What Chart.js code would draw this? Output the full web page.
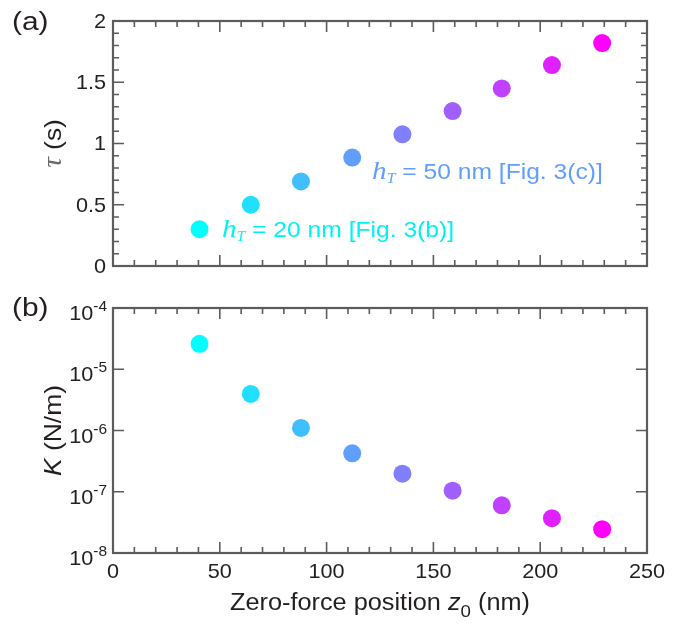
<!DOCTYPE html>
<html><head><meta charset="utf-8">
<script src="https://cdn.jsdelivr.net/npm/chart.js@4.4.0/dist/chart.umd.min.js"></script>
<style>
html,body{margin:0;padding:0;background:#fff;}
#wrap{position:relative;width:693px;height:631px;}
canvas{position:absolute;left:0;}
#c1{top:0;} #c2{top:290px;}
</style></head><body>
<div id="wrap"><canvas id="c1" width="693" height="290"></canvas><canvas id="c2" width="693" height="341"></canvas></div>
<script>
// ---- data ----
const z0 = [40.5, 64.5, 88, 112, 135.5, 159, 182, 205.5, 229];
const tau = [0.30, 0.50, 0.69, 0.885, 1.075, 1.265, 1.45, 1.64, 1.82];
const K = [2.6e-5, 3.95e-6, 1.1e-6, 4.25e-7, 1.97e-7, 1.04e-7, 6.0e-8, 3.7e-8, 2.45e-8];
const pointColors = ['#00ffff','#20dfff','#40bfff','#609fff','#8080ff','#9f60ff','#bf40ff','#df20ff','#ff00ff'];
const xTicks = [0, 50, 100, 150, 200, 250];
const xTickLabels = ['0', '50', '100', '150', '200', '250'];
const tauTicks = [0, 0.5, 1, 1.5, 2];
const tauTickLabels = ['0', '0.5', '1', '1.5', '2'];
const kTicks = [1e-8, 1e-7, 1e-6, 1e-5, 1e-4];
const kTickExps = ['-8', '-7', '-6', '-5', '-4'];

const FRAME = '#5c5c5c';
const TXT = '#231f20';
const SANS = '"Liberation Sans", Arial, sans-serif';
const SERIF = '"Liberation Serif", "Times New Roman", serif';

function drawRich(ctx, x, y, parts, align, sx) {
  sx = sx || 1;
  let w = 0;
  for (const p of parts) { ctx.font = p.font; p.w = ctx.measureText(p.text).width; w += p.w; }
  const W = w * sx;
  const x0 = align === 'center' ? x - W / 2 : (align === 'right' ? x - W : x);
  ctx.save();
  ctx.translate(x0, y);
  ctx.scale(sx, 1);
  ctx.textAlign = 'left';
  let cx = 0;
  for (const p of parts) {
    ctx.font = p.font; ctx.fillStyle = p.color || TXT;
    ctx.fillText(p.text, cx, p.dy || 0);
    cx += p.w;
  }
  ctx.restore();
}

const axesPlugin = {
  id: 'axesPlugin',
  afterDraw(chart) {
    const cfg = chart.options.plugins.axesPlugin;
    const { ctx, chartArea: a, scales: { x, y } } = chart;
    ctx.save();
    ctx.strokeStyle = FRAME;
    ctx.lineWidth = 1.6;
    ctx.beginPath();
    // x ticks (minor every 10)
    for (let v = 0; v <= 250; v += 10) {
      const px = x.getPixelForValue(v);
      const L = xTicks.includes(v) ? 11 : 6;
      ctx.moveTo(px, a.bottom); ctx.lineTo(px, a.bottom - L);
      ctx.moveTo(px, a.top); ctx.lineTo(px, a.top + L);
    }
    // y ticks
    for (const t of cfg.yTicksAll) {
      const py = y.getPixelForValue(t.v);
      ctx.moveTo(a.left, py); ctx.lineTo(a.left + t.len, py);
      ctx.moveTo(a.right, py); ctx.lineTo(a.right - t.len, py);
    }
    ctx.stroke();
    ctx.lineWidth = 2.2;
    ctx.strokeRect(a.left, a.top, a.right - a.left, a.bottom - a.top);

    // y tick labels
    if (cfg.log) {
      ctx.textBaseline = 'alphabetic';
      kTicks.forEach((v, i) => {
        const py = y.getPixelForValue(v);
        drawRich(ctx, a.left - 6, py + 12, [
          { text: '10', font: '21px ' + SANS },
          { text: kTickExps[i], font: '15px ' + SANS, dy: -9 }
        ], 'right', 1.03);
      });
    } else {
      ctx.textBaseline = 'middle';
      tauTicks.forEach((v, i) => {
        drawRich(ctx, a.left - 7, y.getPixelForValue(v) + 1, [{ text: tauTickLabels[i], font: '21px ' + SANS }], 'right', 1.03);
      });
    }
    // x tick labels
    if (cfg.xLabels) {
      ctx.textBaseline = 'middle';
      xTicks.forEach((v, i) => drawRich(ctx, x.getPixelForValue(v), a.bottom + 19, [{ text: xTickLabels[i], font: '21px ' + SANS }], 'center', 1.03));
      ctx.textBaseline = 'alphabetic';
      drawRich(ctx, (a.left + a.right) / 2, a.bottom + 57, [
        { text: 'Zero-force position ', font: '23px ' + SANS },
        { text: 'z', font: 'italic 23px ' + SANS },
        { text: '0', font: '17px ' + SANS, dy: 7 },
        { text: ' (nm)', font: '23px ' + SANS }
      ], 'center', 1.1);
    }
    // y title
    ctx.save();
    ctx.translate(cfg.yTitleX, (a.top + a.bottom) / 2);
    ctx.rotate(-Math.PI / 2);
    ctx.textBaseline = 'middle';
    drawRich(ctx, 0, 0, cfg.yTitle, 'center', 1.1);
    ctx.restore();
    // panel label
    ctx.textBaseline = 'alphabetic';
    drawRich(ctx, 12, cfg.panelY, [{ text: cfg.panel, font: '26px ' + SANS }], 'left', 1.15);
    // annotations
    if (cfg.notes) {
      for (const n of cfg.notes) {
        const px = x.getPixelForValue(n.x), py = y.getPixelForValue(n.y);
        drawRich(ctx, px, py, [
          { text: 'h', font: 'italic 26px ' + SERIF, color: n.color },
          { text: 'T', font: 'italic 14px ' + SERIF, color: n.color, dy: 4 },
          { text: ' = ' + n.text, font: '22px ' + SANS, color: n.color }
        ], 'left', 1.12);
      }
    }
    ctx.restore();
  }
};

const tauTicksAll = [];
for (let i = 0; i <= 20; i++) tauTicksAll.push({ v: i / 10, len: (i % 5 === 0) ? 11 : 6 });
const kTicksAll = kTicks.map(v => ({ v, len: 11 }));

function makeChart(id, yVals, yScale, padding, pcfg) {
  return new Chart(document.getElementById(id), {
    type: 'scatter',
    data: { datasets: [{
      data: z0.map((v, i) => ({ x: v, y: yVals[i] })),
      backgroundColor: pointColors, borderWidth: 0, pointRadius: 9, pointHoverRadius: 9
    }] },
    options: {
      responsive: false, animation: false, devicePixelRatio: 1,
      layout: { padding },
      plugins: { legend: { display: false }, tooltip: { enabled: false }, axesPlugin: pcfg },
      scales: {
        x: { type: 'linear', min: 0, max: 250, display: false },
        y: Object.assign({ display: false }, yScale)
      }
    },
    plugins: [axesPlugin]
  });
}

makeChart('c1', tau, { type: 'linear', min: 0, max: 2 },
  { left: 113, right: 46, top: 21, bottom: 24 },
  { yTicksAll: tauTicksAll, log: false, xLabels: false, yTitleX: 54, panel: '(a)', panelY: 30,
    yTitle: [ { text: 'τ', font: 'italic 27px ' + SERIF, color: '#6a6a6a' }, { text: ' (s)', font: '24px ' + SANS } ],
    notes: [
      { x: 51, y: 0.235, color: '#00f2f2', text: '20 nm [Fig. 3(b)]' },
      { x: 121.3, y: 0.71, color: '#609fff', text: '50 nm [Fig. 3(c)]' }
    ] });

makeChart('c2', K, { type: 'logarithmic', min: 1e-8, max: 1e-4 },
  { left: 113, right: 46, top: 18, bottom: 78 },
  { yTicksAll: kTicksAll, log: true, xLabels: true, yTitleX: 54, panel: '(b)', panelY: 26,
    yTitle: [ { text: 'K', font: 'italic 24px ' + SANS }, { text: ' (N/m)', font: '24px ' + SANS } ] });
</script>
</body></html>
